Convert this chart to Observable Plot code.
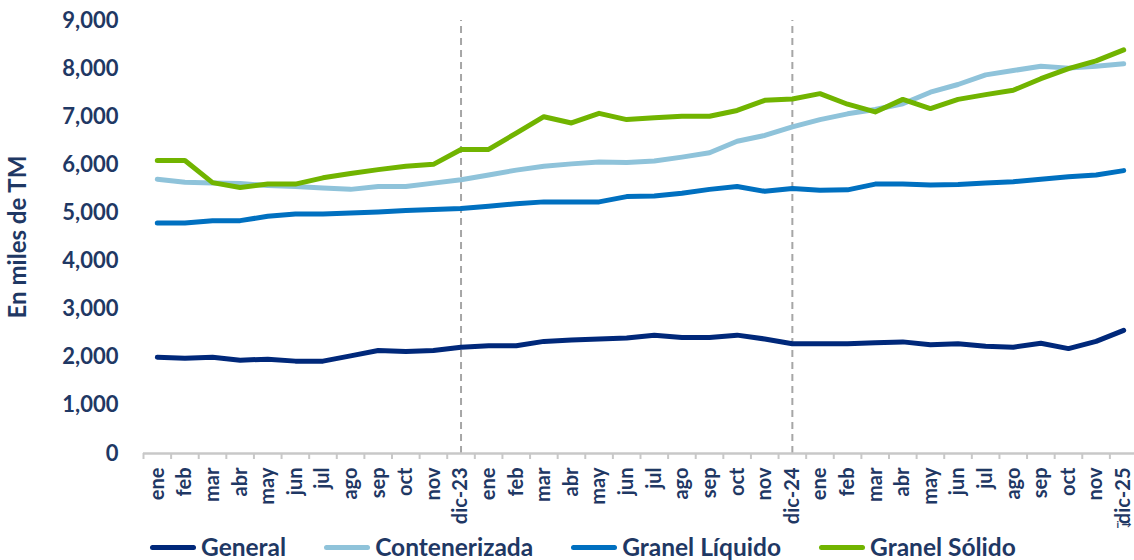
<!DOCTYPE html>
<html>
<head>
<meta charset="utf-8">
<script src="https://cdn.jsdelivr.net/npm/d3@7"></script>
<script src="https://cdn.jsdelivr.net/npm/@observablehq/plot@0.6"></script>
<style>
  html, body { margin: 0; padding: 0; background: #fff; }
  #chart { width: 1134px; height: 560px; position: relative; overflow: hidden; font-family: Lato, "Open Sans", sans-serif; }
  #chart svg { position: absolute; left: 0; top: 0; }
  #legend { position: absolute; left: 0; top: 533px; display: flex; align-items: center; gap: 38px; padding-left: 150px;
            height: 28px; line-height: 28px; font-family: Lato, sans-serif; font-weight: 700; font-size: 24.5px; color: #1f3864; }
  .item { display: flex; align-items: center; gap: 5px; }
  .sw { width: 46px; height: 5px; border-radius: 3px; }
</style>
</head>
<body>
<div id="chart"></div>
<script>
const months = ["ene","feb","mar","abr","may","jun","jul","ago","sep","oct","nov","dic-23",
                "ene","feb","mar","abr","may","jun","jul","ago","sep","oct","nov","dic-24",
                "ene","feb","mar","abr","may","jun","jul","ago","sep","oct","nov","dic-25"];
const yearMarks = ["dic-23", "dic-24"];
const seriesNames = ["General", "Contenerizada", "Granel Líquido", "Granel Sólido"];
const seriesColors = ["#00287a", "#8fc3da", "#0070c0", "#71b400"];

const general = [2000,1980,2000,1940,1960,1920,1920,2030,2140,2120,2140,2210,
                 2240,2240,2330,2360,2380,2400,2460,2410,2410,2460,2380,2280,
                 2280,2280,2300,2320,2260,2280,2230,2210,2290,2180,2330,2560];
const contenerizada = [5700,5640,5620,5610,5570,5550,5520,5490,5550,5550,5620,5690,
                       5790,5890,5970,6020,6060,6050,6080,6160,6250,6490,6610,6790,
                       6940,7060,7150,7270,7510,7670,7870,7960,8050,8010,8050,8100];
const granelLiquido = [4790,4790,4840,4840,4930,4980,4980,5000,5020,5050,5070,5090,
                       5140,5190,5230,5230,5230,5340,5350,5410,5490,5550,5450,5510,
                       5470,5480,5600,5600,5580,5590,5620,5650,5700,5750,5790,5880];
const granelSolido = [6090,6090,5630,5530,5600,5600,5730,5820,5900,5970,6010,6320,
                      6320,6660,7000,6870,7070,6940,6980,7010,7010,7130,7340,7370,
                      7480,7260,7100,7360,7170,7360,7460,7550,7790,8000,8160,8390];
const yTicks = [0,1000,2000,3000,4000,5000,6000,7000,8000,9000];
const yTitle = "En miles de TM";

const allSeries = [general, contenerizada, granelLiquido, granelSolido];
const rows = [];
allSeries.forEach((vals, s) => vals.forEach((v, i) => rows.push({serie: seriesNames[s], i, v})));
const idx = months.map((_, i) => i);
const bounds = idx.map(i => i - 0.5).concat([months.length - 0.5]);
const markIdx = idx.filter(i => yearMarks.includes(months[i]));
const navy = "#1f3864";

const plot = Plot.plot({
  width: 1134,
  height: 530,
  marginTop: 20,
  marginBottom: 77,
  marginLeft: 143,
  marginRight: 0,
  style: {fontFamily: "Lato, sans-serif", fontWeight: 700, color: navy, background: "transparent"},
  x: {type: "linear", domain: [-0.5, months.length - 0.5], range: [143, 1137]},
  y: {domain: [0, 9000], range: [453, 20]},
  color: {domain: seriesNames, range: seriesColors},
  marks: [
    Plot.ruleX(markIdx, {x: d => d, y1: 0, y2: 9000, stroke: "#a6a6a6", strokeWidth: 2, strokeDasharray: "7,5"}),
    Plot.ruleY([0], {stroke: "#c8c8c8", strokeWidth: 2.5}),
    Plot.axisX({ticks: bounds, tickSize: 6, tickFormat: () => "", stroke: "#c8c8c8", strokeWidth: 2}),
    Plot.text(idx, {x: d => d, y: 0, text: d => months[d], rotate: -90, textAnchor: "end", dy: 14,
                    fontSize: 20, fontWeight: 700, fill: navy}),
    Plot.axisY({ticks: yTicks, tickSize: 0, tickPadding: 25, tickFormat: d3.format(","), fontSize: 22,
                fontWeight: 700, label: null, fill: navy}),
    Plot.text([yTitle], {frameAnchor: "left", text: d => d, rotate: -90, dx: -125, textAnchor: "middle",
                         fontSize: 24, fontWeight: 700, fill: navy}),
    Plot.line(rows, {x: "i", y: "v", z: "serie", stroke: "serie", strokeWidth: 5,
                     strokeLinejoin: "round", strokeLinecap: "round"})
  ]
});
const chart = document.getElementById("chart");
chart.appendChild(plot);

const legend = document.createElement("div");
legend.id = "legend";
seriesNames.forEach((n, k) => {
  const it = document.createElement("div");
  it.className = "item";
  const sw = document.createElement("div");
  sw.className = "sw";
  sw.style.background = seriesColors[k];
  const t = document.createElement("span");
  t.textContent = n;
  it.appendChild(sw); it.appendChild(t);
  legend.appendChild(it);
});
chart.appendChild(legend);
</script>
</body>
</html>
